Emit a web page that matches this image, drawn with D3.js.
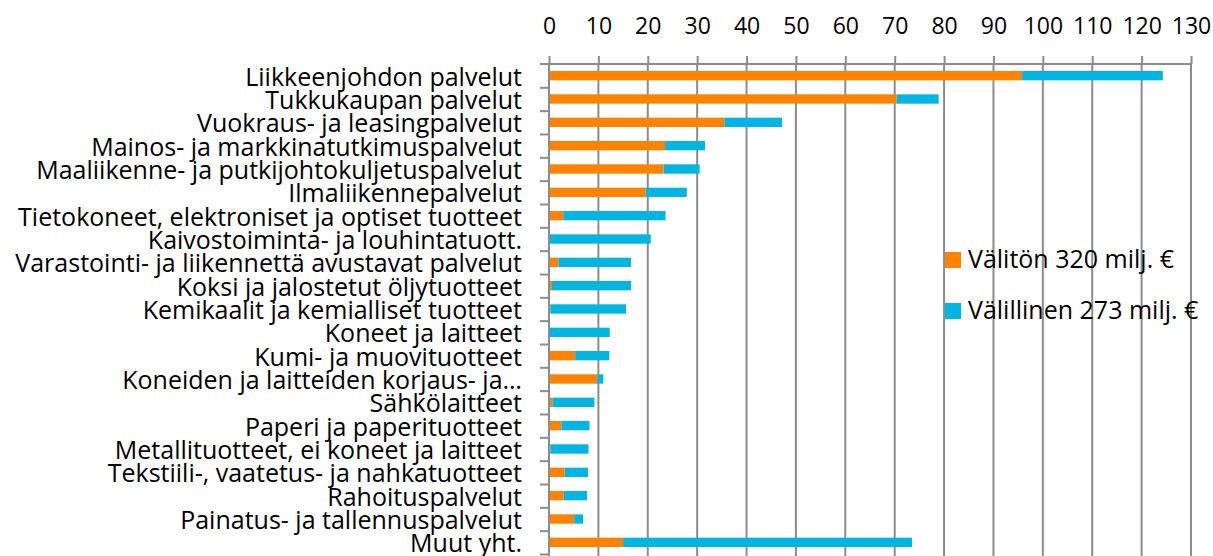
<!DOCTYPE html>
<html>
<head>
<meta charset="utf-8">
<script src="https://cdn.jsdelivr.net/npm/d3@7"></script>
<style>
  body { margin: 0; background: #fff; }
  text { font-family: "Open Sans", sans-serif; fill: #000; }
</style>
</head>
<body>
<div id="chart"></div>
<script>
// categories, top to bottom
var categories = [
  "Liikkeenjohdon palvelut",
  "Tukkukaupan palvelut",
  "Vuokraus- ja leasingpalvelut",
  "Mainos- ja markkinatutkimuspalvelut",
  "Maaliikenne- ja putkijohtokuljetuspalvelut",
  "Ilmaliikennepalvelut",
  "Tietokoneet, elektroniset ja optiset tuotteet",
  "Kaivostoiminta- ja louhintatuott.",
  "Varastointi- ja liikennettä avustavat palvelut",
  "Koksi ja jalostetut öljytuotteet",
  "Kemikaalit ja kemialliset tuotteet",
  "Koneet ja laitteet",
  "Kumi- ja muovituotteet",
  "Koneiden ja laitteiden korjaus- ja…",
  "Sähkölaitteet",
  "Paperi ja paperituotteet",
  "Metallituotteet, ei koneet ja laitteet",
  "Tekstiili-, vaatetus- ja nahkatuotteet",
  "Rahoituspalvelut",
  "Painatus- ja tallennuspalvelut",
  "Muut yht."
];
var valiton =   [95.8, 70.4, 35.5, 23.5, 23.2, 19.6, 2.9, 0, 1.9, 0.6, 0.3, 0, 5.3, 9.8, 0.7, 2.5, 0.3, 3.2, 3.0, 5.1, 15.0];
var valillinen = [28.5, 8.5, 11.7, 8.1, 7.3, 8.3, 20.7, 20.6, 14.7, 16.0, 15.3, 12.3, 6.9, 1.2, 8.5, 5.7, 7.7, 4.7, 4.7, 1.8, 58.5];
var seriesNames = ["Välitön 320 milj. €", "Välillinen 273 milj. €"];
var xTicks = [0, 10, 20, 30, 40, 50, 60, 70, 80, 90, 100, 110, 120, 130];

var width = 1213, height = 556;
var plotLeft = 549, plotRight = 1191, plotTop = 64, plotBottom = 554;
var colors = ["#ff8200", "#00b5e2"];
var gridColor = "#8c8c8c";

var data = categories.map(function(c, i) {
  return { cat: c, v0: valiton[i], v1: valillinen[i] };
});

var x = d3.scaleLinear().domain([0, 130]).range([plotLeft, plotRight]);
var y = d3.scaleBand().domain(categories).range([plotTop, plotBottom])
  .paddingInner(0.6).paddingOuter(0.3);
var yEdge = d3.scaleLinear().domain([0, categories.length]).range([plotTop, plotBottom]);

var svg = d3.select("#chart").append("svg")
  .attr("width", width)
  .attr("height", height);

// vertical gridlines
svg.append("g").selectAll("line")
  .data(xTicks.slice(1))
  .enter().append("line")
  .attr("x1", function(d) { return x(d); })
  .attr("x2", function(d) { return x(d); })
  .attr("y1", plotTop)
  .attr("y2", height)
  .attr("stroke", gridColor)
  .attr("stroke-width", 2);

// bars
var stack = d3.stack().keys(["v0", "v1"]);
var layers = stack(data);

svg.append("g").selectAll("g")
  .data(layers)
  .enter().append("g")
  .attr("fill", function(d, i) { return colors[i]; })
  .selectAll("rect")
  .data(function(d) { return d; })
  .enter().append("rect")
  .attr("x", function(d) { return x(d[0]); })
  .attr("width", function(d) { return x(d[1]) - x(d[0]); })
  .attr("y", function(d) { return y(d.data.cat); })
  .attr("height", y.bandwidth());

// top axis
var xAxis = d3.axisTop(x).tickValues(xTicks).tickSize(8).tickPadding(22);
var gx = svg.append("g")
  .attr("transform", "translate(0," + plotTop + ")")
  .call(xAxis);
gx.select(".domain").attr("stroke", gridColor).attr("stroke-width", 2)
  .attr("d", "M" + (plotLeft - 9) + ",0H" + plotRight);
gx.selectAll(".tick line").attr("stroke", gridColor).attr("stroke-width", 2);
gx.selectAll("text").style("font-size", "23px").attr("fill", "#000");

// left axis with ticks between categories
var yAxis = d3.axisLeft(yEdge).tickValues(d3.range(1, categories.length + 1))
  .tickSize(9).tickFormat("");
var gy = svg.append("g")
  .attr("transform", "translate(" + plotLeft + ",0)")
  .call(yAxis);
gy.select(".domain").attr("stroke", gridColor).attr("stroke-width", 2)
  .attr("d", "M0," + plotTop + "V" + height);
gy.selectAll(".tick line").attr("stroke", gridColor).attr("stroke-width", 2);

// category labels
svg.append("g").selectAll("text")
  .data(categories)
  .enter().append("text")
  .attr("x", 522)
  .attr("y", function(d) { return y(d) + y.bandwidth() / 2; })
  .attr("dy", "0.4em")
  .style("text-anchor", "end")
  .style("font-size", "25px")
  .text(function(d) { return d; });

// legend
var legend = svg.append("g").selectAll("g")
  .data(seriesNames)
  .enter().append("g")
  .attr("transform", function(d, i) { return "translate(945," + (260 + i * 51) + ")"; });
legend.append("rect")
  .attr("x", 0).attr("y", -8)
  .attr("width", 16).attr("height", 16)
  .attr("fill", function(d, i) { return colors[i]; });
legend.append("text")
  .attr("x", 23)
  .attr("dy", "0.33em")
  .style("font-size", "25px")
  .text(function(d) { return d; });
</script>
</body>
</html>
